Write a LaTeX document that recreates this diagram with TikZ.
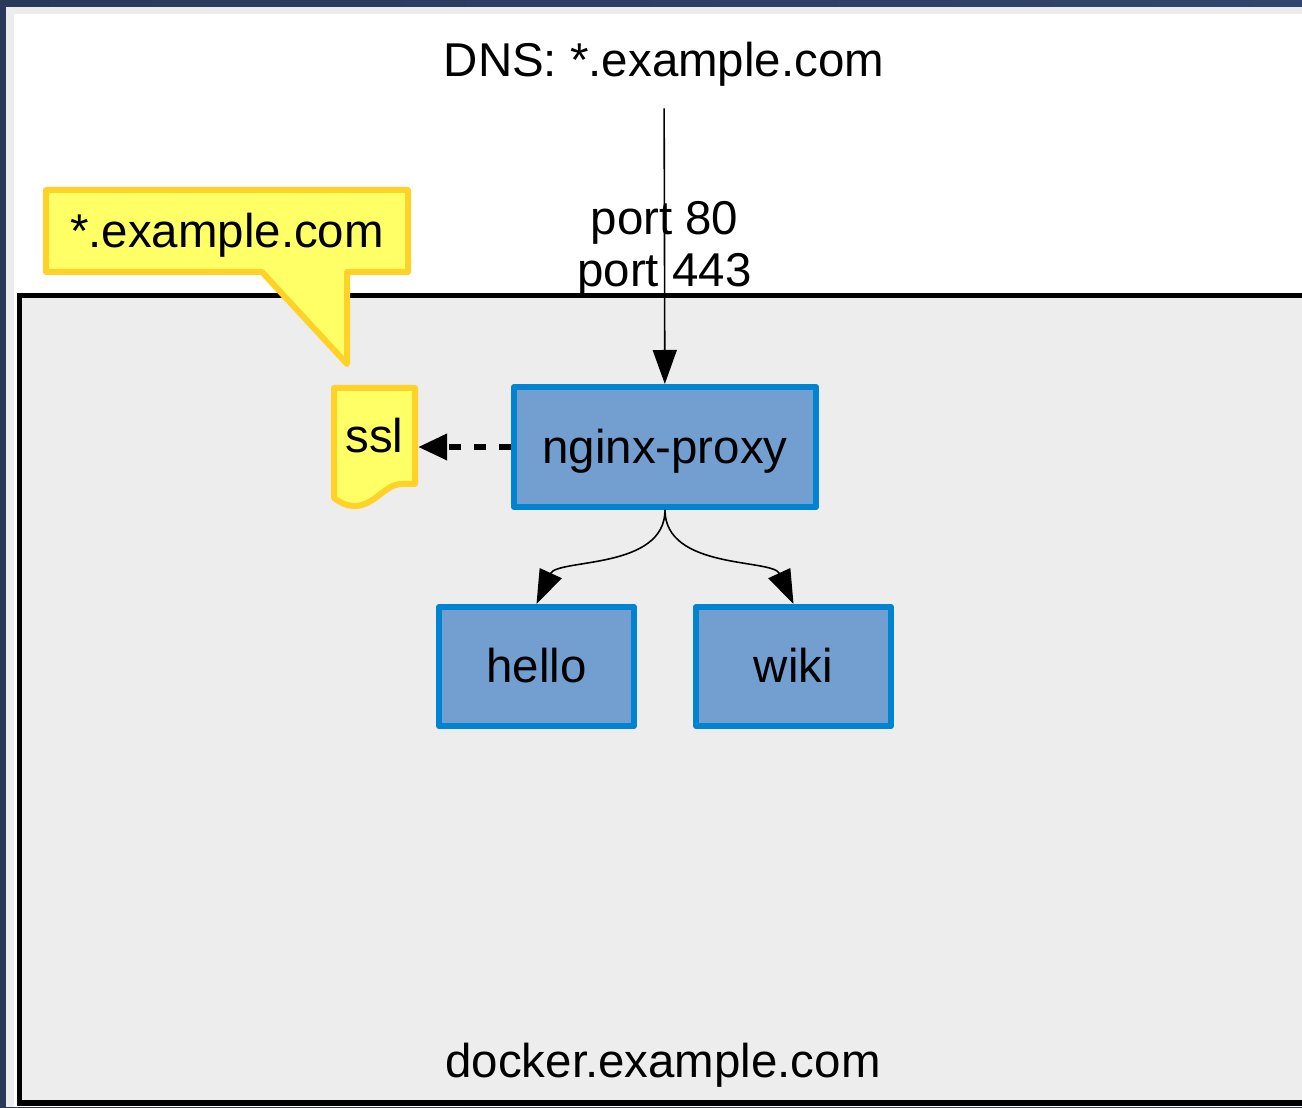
\documentclass[tikz,border=0pt]{standalone}
\usepackage{fontspec}
\setmainfont{Liberation Sans}
\usetikzlibrary{arrows.meta, positioning}
\definecolor{FrameNavy}{RGB}{41,57,89}
\definecolor{FrameNavyR}{RGB}{48,70,110}
\definecolor{PanelGrey}{RGB}{236,236,236}
\definecolor{HostGrey}{RGB}{237,237,237}
\definecolor{SvcBlue}{RGB}{114,159,207}
\definecolor{SvcEdge}{RGB}{0,132,209}
\definecolor{NoteYellow}{RGB}{255,255,102}
\definecolor{NoteEdge}{RGB}{255,210,40}

\begin{document}
\begin{tikzpicture}[
          lbl/.style={font=\fontsize{27}{29.5}\selectfont, inner sep=0pt,
                      text height=24.4pt, text depth=5.7pt},
          svc/.style={lbl, rectangle, fill=SvcBlue, draw=SvcEdge,
                      line width=0.12cm, line join=round,
                      minimum width=3.9cm, minimum height=2.38cm},
          note/.style={fill=NoteYellow, draw=NoteEdge, line width=0.12cm,
                       line join=round},
          arr/.style={-{Triangle[length=0.68cm, width=0.48cm]}, line width=0.9pt},
          dasharr/.style={-{Triangle[length=0.58cm, width=0.5cm]},
                          line width=0.13cm, dash pattern=on 0.25cm off 0.25cm}
        ]
        \useasboundingbox (0,0) rectangle (26.04,22.14);
        \clip (0,0) rectangle (26.04,22.14);

        % window frame
        \shade[left color=FrameNavy, right color=FrameNavyR]
              (0,0) rectangle (26.04,22.14);
        \fill[PanelGrey] (0.12,0) rectangle (26.04,22.00);
        \fill[white] (0.28,0) rectangle (26.04,21.86);

        % host
        \draw[fill=HostGrey, line width=0.11cm] (0.39,0.08) rectangle (26.6,16.23);
        \node[lbl] (host) at (13.26, 0.91) {docker.example.com};

        % certificate callout
        \draw[note] (0.92,18.34) -- (8.16,18.34) -- (8.16,16.70) -- (6.94,16.70)
              -- (6.94,14.86) -- (5.24,16.70) -- (0.92,16.70) -- cycle;
        \node[lbl, minimum width=7.24cm, minimum height=1.64cm]
              (wild) at (4.54, 17.52) {*.example.com};

        % ssl document
        \draw[note] (6.68,14.38) -- (8.30,14.38) -- (8.30,12.46) -- (8.04,12.46)
              .. controls (7.70,12.46) and (7.50,12.04) .. (7.12,12.02)
              .. controls (6.90,12.02) and (6.80,12.10) .. (6.68,12.18) -- cycle;
        \node[lbl, minimum width=1.62cm, minimum height=1.92cm, outer sep=0.06cm]
              (ssl) at (7.49, 13.42) {ssl};

        \node[svc, minimum width=6.04cm, minimum height=2.40cm]
              (nginx) at (13.30, 13.20) {nginx-proxy};
        \node[svc] (hello) at (10.73, 8.81) {hello};
        \node[svc] (wiki)  at (15.87, 8.81) {wiki};

        \node[lbl, inner ysep=0.43cm] (dns) at (13.28, 20.94) {DNS: *.example.com};

        \draw[arr] (dns) -- node[lbl, align=center, text height=, text depth=,
              yshift=-0.06cm] {port 80\\port 443} (nginx);
        \draw[dasharr] (nginx.west) -- (ssl.east |- nginx.west);
        \draw[arr] (nginx.south) .. controls +(0,-1.2) and +(0.42,0.91) .. (hello.north);
        \draw[arr] (nginx.south) .. controls +(0,-1.2) and +(-0.42,0.91) .. (wiki.north);
      \end{tikzpicture}
\end{document}
